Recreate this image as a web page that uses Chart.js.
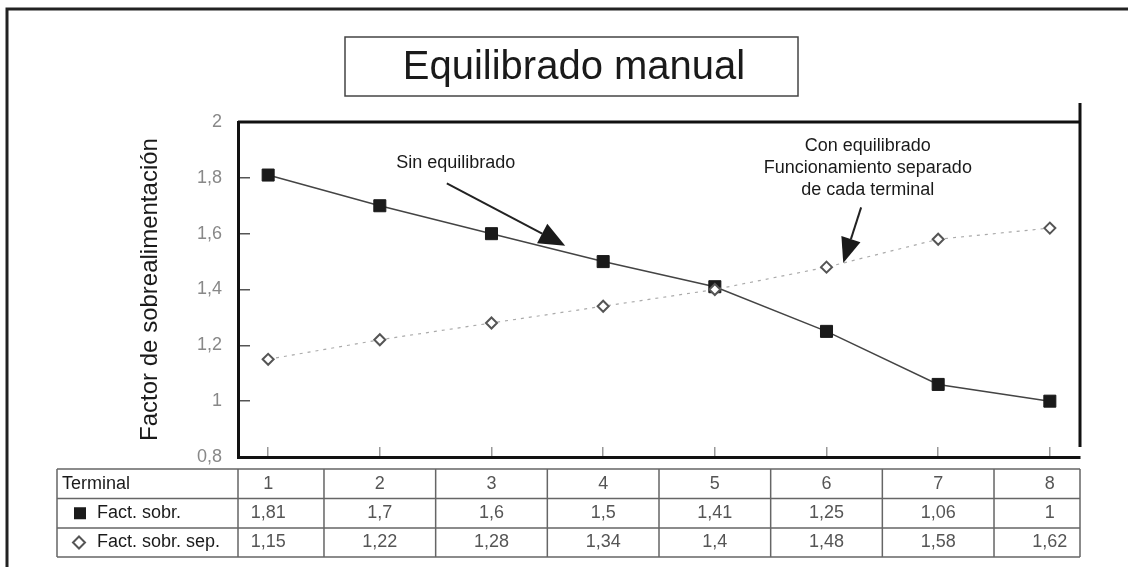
<!DOCTYPE html>
<html>
<head>
<meta charset="utf-8">
<script src="https://cdn.jsdelivr.net/npm/chart.js@4.4.1/dist/chart.umd.min.js"></script>
<style>
  html, body { margin: 0; padding: 0; background: #fff; }
  #wrap { width: 1128px; height: 567px; position: relative; }
</style>
</head>
<body>
<div id="wrap"><canvas id="equilibrado"></canvas></div>
<script>
var terminals = [1, 2, 3, 4, 5, 6, 7, 8];
var factSobr = [1.81, 1.7, 1.6, 1.5, 1.41, 1.25, 1.06, 1];
var factSobrSep = [1.15, 1.22, 1.28, 1.34, 1.4, 1.48, 1.58, 1.62];
var yMin = 0.8, yMax = 2, yStep = 0.2;
var chartTitle = 'Equilibrado manual';
var yTitle = 'Factor de sobrealimentación';
var rowLabels = ['Terminal', 'Fact. sobr.', 'Fact. sobr. sep.'];

var FONT = '"Liberation Sans", Arial, sans-serif';

function fmt(v) {
    return String(+Number(v).toFixed(2)).replace('.', ',');
}

function toPoints(vals) {
    return terminals.map(function (t, i) { return { x: t, y: vals[i] }; });
}

function arrow(ctx, x1, y1, x2, y2, len, half) {
    var a = Math.atan2(y2 - y1, x2 - x1);
    var bx = x2 - Math.cos(a) * len, by = y2 - Math.sin(a) * len;
    ctx.beginPath();
    ctx.moveTo(x1, y1);
    ctx.lineTo(bx, by);
    ctx.stroke();
    ctx.beginPath();
    ctx.moveTo(x2, y2);
    ctx.lineTo(bx + Math.sin(a) * half, by - Math.cos(a) * half);
    ctx.lineTo(bx - Math.sin(a) * half, by + Math.cos(a) * half);
    ctx.closePath();
    ctx.fill();
}

// frame, title box, notes and the data table under the plot
var decor = {
    id: 'decor',
    afterDraw: function (chart) {
        var ctx = chart.ctx, area = chart.chartArea;
        var xs = chart.scales.x, ys = chart.scales.y;
        ctx.save();

        // outer frame (top + left only)
        ctx.strokeStyle = '#222';
        ctx.lineWidth = 3;
        ctx.beginPath();
        ctx.moveTo(7, 567); ctx.lineTo(7, 9); ctx.lineTo(1128, 9);
        ctx.stroke();

        // title box
        ctx.lineWidth = 1.5;
        ctx.strokeStyle = '#444';
        ctx.strokeRect(345, 37, 453, 59);
        ctx.fillStyle = '#1a1a1a';
        ctx.font = '40px ' + FONT;
        ctx.textAlign = 'center';
        ctx.textBaseline = 'middle';
        ctx.fillText(chartTitle, 574, 68);

        // plot top and right borders
        ctx.strokeStyle = '#111';
        ctx.lineWidth = 3;
        ctx.beginPath();
        ctx.moveTo(area.left, area.top); ctx.lineTo(area.right, area.top);
        ctx.moveTo(area.right, area.top - 19); ctx.lineTo(area.right, area.bottom - 10);
        ctx.stroke();

        // notes
        ctx.fillStyle = '#1a1a1a';
        ctx.font = '18px ' + FONT;
        ctx.fillText('Sin equilibrado', xs.getPixelForValue(2.68), ys.getPixelForValue(1.852));
        var cx = xs.getPixelForValue(6.37), cy = ys.getPixelForValue(1.914);
        ctx.fillText('Con equilibrado', cx, cy);
        ctx.fillText('Funcionamiento separado', cx, cy + 22);
        ctx.fillText('de cada terminal', cx, cy + 44);

        ctx.strokeStyle = '#222';
        ctx.lineWidth = 2;
        arrow(ctx, xs.getPixelForValue(2.6), ys.getPixelForValue(1.78),
            xs.getPixelForValue(3.66), ys.getPixelForValue(1.557), 26, 11);
        arrow(ctx, xs.getPixelForValue(6.31), ys.getPixelForValue(1.694),
            xs.getPixelForValue(6.15), ys.getPixelForValue(1.495), 25, 10);

        // table
        var tLeft = 57, rows = [469, 498.5, 528, 557];
        ctx.strokeStyle = '#666';
        ctx.lineWidth = 1.5;
        ctx.beginPath();
        rows.forEach(function (y) { ctx.moveTo(tLeft, y); ctx.lineTo(area.right, y); });
        var cols = [tLeft, area.left];
        terminals.slice(0, -1).forEach(function (t) { cols.push(xs.getPixelForValue(t + 0.5)); });
        cols.push(area.right);
        cols.forEach(function (x) { ctx.moveTo(x, rows[0]); ctx.lineTo(x, rows[3]); });
        ctx.stroke();

        var mid = function (r) { return (rows[r] + rows[r + 1]) / 2; };
        ctx.textAlign = 'left';
        ctx.fillStyle = '#1a1a1a';
        ctx.font = '18px ' + FONT;
        ctx.fillText(rowLabels[0], 62, mid(0));
        ctx.fillText(rowLabels[1], 97, mid(1));
        ctx.fillText(rowLabels[2], 97, mid(2));
        // legend markers
        ctx.fillStyle = '#1a1a1a';
        ctx.fillRect(74, mid(1) - 6, 12, 12);
        ctx.strokeStyle = '#555';
        ctx.lineWidth = 2;
        ctx.fillStyle = '#fff';
        ctx.beginPath();
        ctx.moveTo(79, mid(2) - 6); ctx.lineTo(85, mid(2)); ctx.lineTo(79, mid(2) + 6); ctx.lineTo(73, mid(2));
        ctx.closePath();
        ctx.fill(); ctx.stroke();

        ctx.textAlign = 'center';
        ctx.fillStyle = '#555';
        ctx.font = '18px ' + FONT;
        terminals.forEach(function (t, i) {
            var px = xs.getPixelForValue(t);
            ctx.fillText(String(t), px, mid(0));
            ctx.fillText(fmt(factSobr[i]), px, mid(1));
            ctx.fillText(fmt(factSobrSep[i]), px, mid(2));
        });
        ctx.restore();
    }
};

var ctx = document.getElementById('equilibrado').getContext('2d');
new Chart(ctx, {
    type: 'line',
    data: {
        datasets: [{
            label: rowLabels[1],
            data: toPoints(factSobr),
            borderColor: '#444',
            borderWidth: 1.5,
            pointStyle: 'rect',
            pointRadius: 8.5,
            pointBackgroundColor: '#1a1a1a',
            pointBorderColor: '#1a1a1a',
            pointBorderWidth: 1,
            order: 2
        }, {
            label: rowLabels[2],
            data: toPoints(factSobrSep),
            borderColor: '#aaa',
            borderWidth: 1.2,
            borderDash: [3, 5],
            pointStyle: 'rectRot',
            pointRadius: 5.5,
            pointBackgroundColor: '#fff',
            pointBorderColor: '#555',
            pointBorderWidth: 2,
            order: 1
        }]
    },
    options: {
        responsive: true,
        maintainAspectRatio: false,
        animation: false,
        layout: { padding: { top: 122, left: 0, right: 48, bottom: 110 } },
        plugins: {
            legend: { display: false },
            tooltip: { enabled: false }
        },
        scales: {
            x: {
                type: 'linear',
                min: 0.73,
                max: 8.27,
                ticks: { display: false, stepSize: 1, includeBounds: false },
                grid: { drawOnChartArea: false, drawTicks: true, tickLength: -10, color: '#999', lineWidth: 1.5 },
                border: { display: true, color: '#111', width: 3 },
                afterFit: function (s) { s.height = 0; }
            },
            y: {
                min: yMin,
                max: yMax,
                ticks: {
                    stepSize: yStep,
                    padding: 28,
                    color: '#888',
                    font: { family: FONT, size: 18 },
                    callback: function (v) { return fmt(v); }
                },
                grid: { drawOnChartArea: false, drawTicks: true, tickLength: -12, color: '#555', lineWidth: 1.5 },
                border: { display: true, color: '#111', width: 3 },
                title: {
                    display: true,
                    text: yTitle,
                    color: '#1a1a1a',
                    font: { family: FONT, size: 24 },
                    padding: { top: 136, bottom: 0 }
                },
                afterFit: function (s) { s.width = 238; }
            }
        }
    },
    plugins: [decor]
});
</script>
</body>
</html>
